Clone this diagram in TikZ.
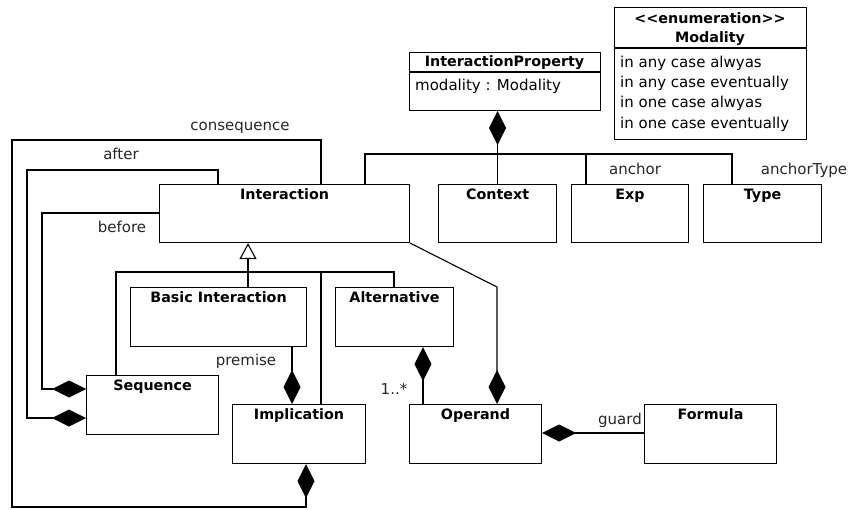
\documentclass[tikz,border=0pt]{standalone}
\usepackage{fontspec}
\setmainfont{DejaVu Sans}
\usetikzlibrary{arrows.meta}
\tikzset{
  cls/.style={draw, line width=1.1pt, minimum width=0pt, minimum height=0pt, inner sep=0pt, anchor=north west},
  title/.style={anchor=base, inner sep=0pt, font=\fontsize{14.3}{16}\selectfont\bfseries},
  txt/.style={inner sep=0pt, font=\fontsize{15}{17}\selectfont},
  lbl/.style={inner sep=0pt, anchor=base, font=\fontsize{15}{17}\selectfont, text=black!85},
  conn/.style={line width=1.1pt},
  comp/.style={conn, -{Diamond[length=34pt, width=17pt, fill=black]}},
  gen/.style={conn, -{Triangle[open, length=16pt, width=17pt, fill=white]}},
}
\newcommand{\clsbox}[5]{% name, x0, y0, x1, y1
  \node[cls, minimum width={(#4-#2)*1pt}, minimum height={(#5-#3)*1pt}] (#1) at (#2,#3) {};}
\begin{document}
\begin{tikzpicture}[x=1pt, y=-1pt]
\useasboundingbox (0,0) rectangle (851,510);

% classes
\clsbox{inter}{159}{184}{409}{242}
\clsbox{ctx}{438}{184}{556}{242}
\clsbox{exp}{571}{184}{688}{242}
\clsbox{type}{703}{184}{821}{242}
\clsbox{basic}{130}{287}{306}{346}
\clsbox{alt}{335}{287}{453}{346}
\clsbox{seq}{86}{375}{218}{434}
\clsbox{impl}{232}{404}{365}{463}
\clsbox{op}{409}{404}{541}{463}
\clsbox{formula}{644}{404}{776}{463}
\clsbox{ip}{409}{52}{600}{110}
\clsbox{modality}{614}{7}{806}{139}
\draw[conn] (ip.west |- 0,72) -- (ip.east |- 0,72);
\draw[conn] (modality.west |- 0,48) -- (modality.east |- 0,48);

% class names
\foreach \n/\t in {inter/Interaction, ctx/Context, exp/Exp, type/Type,
                   basic/Basic Interaction, alt/Alternative, seq/Sequence,
                   impl/Implication, op/Operand, formula/Formula}
  \node[title] (\n-name) at ([yshift=-15.5pt]\n.north) {\t};
\node[title] (ip-name) at (504.5,67) {InteractionProperty};
\node[txt, anchor=base west] (ip-attr) at (415,91) {modality : Modality};
\node[title] (mod-stereo) at (710,24) {<{}<enumeration>{}>};
\node[title] (mod-name) at (710,43) {Modality};
\node[txt, anchor=base west] (mod-l1) at (620,68) {in any case alwyas};
\node[txt, anchor=base west] (mod-l2) at (620,88) {in any case eventually};
\node[txt, anchor=base west] (mod-l3) at (620,108) {in one case alwyas};
\node[txt, anchor=base west] (mod-l4) at (620,129) {in one case eventually};

% generalization tree
\draw[conn] (116,0 |- seq.north) -- (116,272) -- (394,272) -- (394,0 |- alt.north);
\draw[conn] (248,0 |- basic.north) -- (248,272);
\draw[conn] (321,0 |- impl.north) -- (321,272);
\draw[gen] (248,272) -- (248,0 |- inter.south);

% compositions
\draw[comp] (321,0 |- inter.north) -- (321,140) -- (12,140) -- (12,507) -- (306,507) -- (306,0 |- impl.south);
\draw[comp] (218,0 |- inter.north) -- (218,170) -- (27,170) -- (27,418) -- (seq.west |- 0,418);
\draw[comp] (inter.west |- 0,213) -- (42,213) -- (42,389) -- (seq.west |- 0,389);
\draw[comp] (292,0 |- basic.south) -- (292,0 |- impl.north);
\draw[comp] (423,0 |- op.north) -- (423,0 |- alt.south);
\draw[comp] (inter.south east) -- (497,287) -- (497,0 |- op.north);
\draw[comp] (formula.west |- 0,433) -- (op.east |- 0,433);
\draw[conn] (365,0 |- inter.north) -- (365,154) -- (732,154) -- (732,0 |- type.north);
\draw[conn] (586,154) -- (586,0 |- exp.north);
\draw[comp] (ctx.north) -- (ctx.north |- ip.south);

% role names
\node[lbl] (l-cons) at (240,131) {consequence};
\node[lbl] (l-after) at (121,160) {after};
\node[lbl] (l-before) at (122,233) {before};
\node[lbl] (l-premise) at (246,366) {premise};
\node[lbl] (l-mult) at (394,394) {1..*};
\node[lbl] (l-guard) at (620,424) {guard};
\node[lbl] (l-anchor) at (635,175) {anchor};
\node[lbl] (l-atype) at (804,175) {anchorType};
\end{tikzpicture}
\end{document}
